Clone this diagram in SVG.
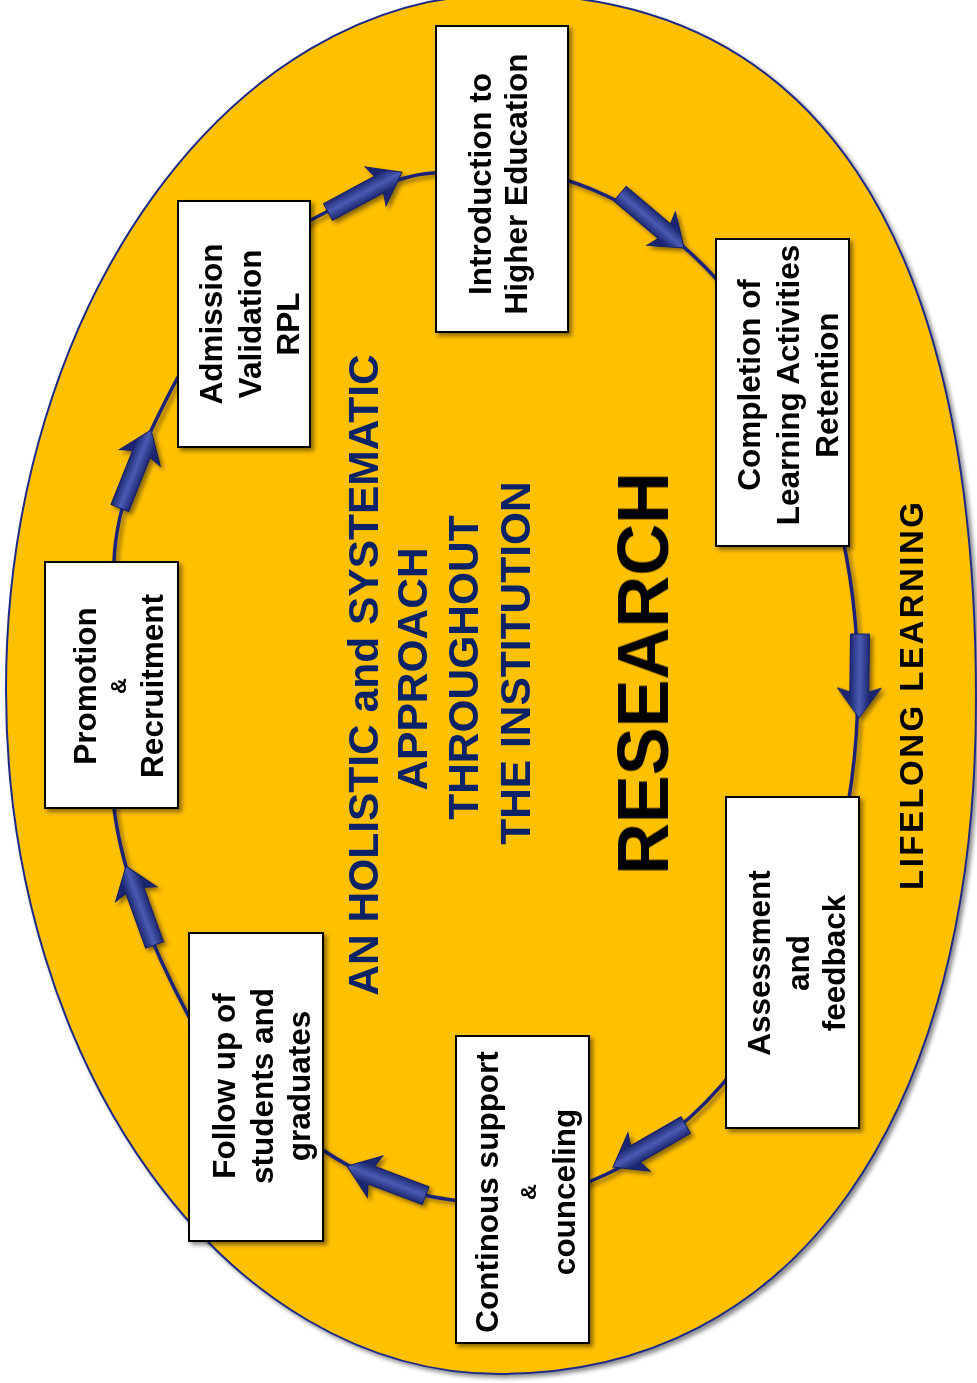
<svg xmlns="http://www.w3.org/2000/svg" width="977" height="1383" viewBox="0 0 977 1383">
<defs>
  <filter id="sh" x="-10%" y="-10%" width="125%" height="125%">
    <feDropShadow dx="3" dy="3" stdDeviation="2" flood-color="#000" flood-opacity="0.45"/>
  </filter>
  <linearGradient id="ag" gradientUnits="userSpaceOnUse" x1="0" y1="-10" x2="0" y2="10">
    <stop offset="0" stop-color="#1D2670"/>
    <stop offset="0.5" stop-color="#4A5BB3"/>
    <stop offset="1" stop-color="#1D2670"/>
  </linearGradient>
  <path id="arr" d="M0,-9.5 H58 L54,-22 L84,0 L54,22 L58,9.5 H0 Z"/>
  <style>
    .box{fill:#fff;stroke:#000;stroke-width:2}
    .bt{font-family:"Liberation Sans",Arial,Helvetica,sans-serif;font-weight:bold;font-size:31.5px;text-anchor:middle;fill:#000}
    .amp{font-size:22px}
    .ct{font-family:"Liberation Sans",Arial,Helvetica,sans-serif;font-weight:bold;font-size:42.5px;text-anchor:middle;fill:#0B2366}
    .big{font-family:"Liberation Sans",Arial,Helvetica,sans-serif;font-weight:bold;text-anchor:middle;fill:#000}
    .arrow{fill:url(#ag);stroke:#151E66;stroke-width:1}
    .cyc{fill:none;stroke:#1A2478;stroke-width:3.5}
  </style>
</defs>

<g id="background">
  <path d="M505,-6 C816,-6 976,234 976,700 C976,1118 795,1374 500,1374 C227,1374 6,1067.8 6,690 C6,305.6 229.4,-6 505,-6 Z" fill="#FFC000" stroke="#1F2B86" stroke-width="2" filter="url(#sh)"/>
</g>

<g id="connectors" filter="url(#sh)">
  <path class="cyc" d="M486,168 A372,517 0 0 1 858,685 A372,517 0 0 1 486,1202 A372,517 0 0 1 323,1150 C281.6,1122 211.5,1059 188,1015 C155,953 122.4,877.3 114,808 C108.6,763 107.25,606.5 114,562 C116,500 146,437 178,377 C204,328.6 257.7,247.6 311,220 C351,199.3 396.4,174 436,172.7 A372,517 0 0 1 486,168 Z"/>
  <use href="#arr" class="arrow" transform="translate(328,212) rotate(-28.3)"/>
  <use href="#arr" class="arrow" transform="translate(620,193.7) rotate(40.3)"/>
  <use href="#arr" class="arrow" transform="translate(860,634) rotate(90.7)"/>
  <use href="#arr" class="arrow" transform="translate(685.7,1125) rotate(150)"/>
  <use href="#arr" class="arrow" transform="translate(425.6,1195.6) rotate(-159.4)"/>
  <use href="#arr" class="arrow" transform="translate(154.6,945) rotate(-109.9)"/>
  <use href="#arr" class="arrow" transform="translate(119.8,508) rotate(-68.2)"/>
</g>

<g id="node-introduction">
  <rect class="box" x="436" y="26" width="132" height="306" filter="url(#sh)"/>
  <text class="bt" transform="translate(491,184) rotate(-90)">Introduction to</text>
  <text class="bt" transform="translate(527,184) rotate(-90)">Higher Education</text>
</g>

<g id="node-admission">
  <rect class="box" x="178" y="201" width="132" height="246" filter="url(#sh)"/>
  <text class="bt" transform="translate(222,324) rotate(-90)">Admission</text>
  <text class="bt" transform="translate(261,324) rotate(-90)">Validation</text>
  <text class="bt" transform="translate(299,324) rotate(-90)">RPL</text>
</g>

<g id="node-completion">
  <rect class="box" x="716" y="239" width="133" height="307" filter="url(#sh)"/>
  <text class="bt" transform="translate(760,385) rotate(-90)">Completion of</text>
  <text class="bt" transform="translate(799,385) rotate(-90)">Learning Activities</text>
  <text class="bt" transform="translate(838,385) rotate(-90)">Retention</text>
</g>

<g id="node-promotion">
  <rect class="box" x="45" y="562" width="133" height="246" filter="url(#sh)"/>
  <text class="bt" transform="translate(96,686) rotate(-90)">Promotion</text>
  <text class="bt amp" transform="translate(126,686) rotate(-90)">&amp;</text>
  <text class="bt" transform="translate(163,686) rotate(-90)">Recruitment</text>
</g>

<g id="node-assessment">
  <rect class="box" x="726" y="797" width="133" height="331" filter="url(#sh)"/>
  <text class="bt" transform="translate(770,963) rotate(-90)">Assessment</text>
  <text class="bt" transform="translate(809,963) rotate(-90)">and</text>
  <text class="bt" transform="translate(845,963) rotate(-90)">feedback</text>
</g>

<g id="node-followup">
  <rect class="box" x="189" y="933" width="134" height="308" filter="url(#sh)"/>
  <text class="bt" transform="translate(235,1086) rotate(-90)">Follow up of</text>
  <text class="bt" transform="translate(273,1086) rotate(-90)">students and</text>
  <text class="bt" transform="translate(310,1086) rotate(-90)">graduates</text>
</g>

<g id="node-support">
  <rect class="box" x="456" y="1036" width="133" height="307" filter="url(#sh)"/>
  <text class="bt" transform="translate(498,1192) rotate(-90)">Continous support</text>
  <text class="bt amp" transform="translate(536,1192) rotate(-90)">&amp;</text>
  <text class="bt" transform="translate(575,1192) rotate(-90)">counceling</text>
</g>

<g id="center-text">
  <text class="ct" transform="translate(378,675) rotate(-90)">AN HOLISTIC and SYSTEMATIC</text>
  <text class="ct" transform="translate(427,669) rotate(-90)">APPROACH</text>
  <text class="ct" transform="translate(478,667.5) rotate(-90)">THROUGHOUT</text>
  <text class="ct" transform="translate(530,663) rotate(-90)">THE INSTITUTION</text>
</g>

<g id="research">
  <text class="big" font-size="72" textLength="403" transform="translate(668,673.5) rotate(-90)">RESEARCH</text>
</g>

<g id="lifelong">
  <text class="big" font-size="33" textLength="388" transform="translate(923,696) rotate(-90)">LIFELONG LEARNING</text>
</g>
</svg>
